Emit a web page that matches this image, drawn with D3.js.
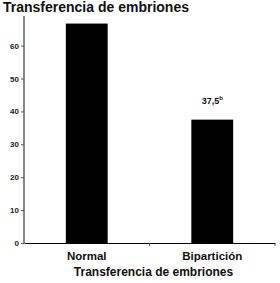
<!DOCTYPE html>
<html>
<head>
<meta charset="utf-8">
<script src="https://cdn.jsdelivr.net/npm/d3@7"></script>
<style>
  body { margin: 0; background: #fff; }
  text { font-family: "Liberation Sans", Arial, sans-serif; }
</style>
</head>
<body>
<div id="chart"></div>
<script>
var categories = ['Normal', 'Bipartición'];
var values = [66.7, 37.5];
var barLabels = ['', '37,5'];
var barSups = ['', 'b'];
var yTicks = [0, 10, 20, 30, 40, 50, 60];

var width = 280, height = 283;
var margin = { left: 24, right: 5, top: 16, bottom: 40 };

var svg = d3.select('#chart').append('svg')
	.attr('width', width)
	.attr('height', height);

var x = d3.scaleBand().domain(categories).range([margin.left, width - margin.right]);
var y = d3.scaleLinear().domain([0, 69]).range([height - margin.bottom, margin.top]);
var barW = x.bandwidth() / 3;

// title
svg.append('text')
	.attr('x', 3)
	.attr('y', 12)
	.style('font-size', '14px')
	.style('font-weight', 'bold')
	.attr('fill', '#111')
	.text('Transferencia de embriones');

// bars
svg.selectAll('rect.bar').data(values).enter().append('rect')
	.attr('class', 'bar')
	.attr('x', function(d, i) { return x(categories[i]) + x.bandwidth() / 2 - barW / 2; })
	.attr('y', function(d) { return y(d); })
	.attr('width', barW)
	.attr('height', function(d) { return y(0) - y(d); })
	.attr('fill', '#000');

// bar labels
var lab = svg.selectAll('text.lab').data(values).enter().append('text')
	.attr('class', 'lab')
	.attr('x', function(d, i) { return x(categories[i]) + x.bandwidth() / 2; })
	.attr('y', function(d) { return y(d) - 16; })
	.attr('text-anchor', 'middle')
	.style('font-size', '9px')
	.style('font-weight', 'bold')
	.attr('fill', '#111');
lab.append('tspan').text(function(d, i) { return barLabels[i]; });
lab.append('tspan').attr('dy', -4).style('font-size', '6px').text(function(d, i) { return barSups[i]; });

// y axis
var yAxis = svg.append('g')
	.attr('transform', 'translate(' + margin.left + ',0)')
	.call(d3.axisLeft(y).tickValues(yTicks).tickSize(3).tickPadding(2));
yAxis.select('.domain').attr('stroke', '#888').attr('stroke-width', 2).attr('d', 'M0,' + y(0) + 'V' + margin.top);
yAxis.selectAll('.tick line').attr('stroke', '#555');
yAxis.selectAll('.tick text').style('font-size', '8px').style('font-weight', 'bold').attr('fill', '#222').style('font-family', '"Liberation Sans", Arial, sans-serif');

// x axis
var xAxis = svg.append('g')
	.attr('transform', 'translate(0,' + y(0) + ')')
	.call(d3.axisBottom(x).tickSize(0).tickPadding(0));
xAxis.select('.domain').attr('stroke', '#000').attr('stroke-width', 1);
xAxis.selectAll('.tick text')
	.attr('dy', null)
	.attr('y', 17)
	.style('font-size', '11.5px').style('font-weight', 'bold').attr('fill', '#111')
	.style('font-family', '"Liberation Sans", Arial, sans-serif');

// category separators
svg.selectAll('line.sep').data(categories).enter().append('line')
	.attr('class', 'sep')
	.attr('x1', function(d) { return x(d) + x.bandwidth(); })
	.attr('x2', function(d) { return x(d) + x.bandwidth(); })
	.attr('y1', y(0))
	.attr('y2', y(0) + 3)
	.attr('stroke', '#555');

// x axis title
svg.append('text')
	.attr('x', (margin.left + width - margin.right) / 2 + 4)
	.attr('y', 276)
	.attr('text-anchor', 'middle')
	.style('font-size', '12px')
	.style('font-weight', 'bold')
	.attr('fill', '#111')
	.text('Transferencia de embriones');
</script>
</body>
</html>
